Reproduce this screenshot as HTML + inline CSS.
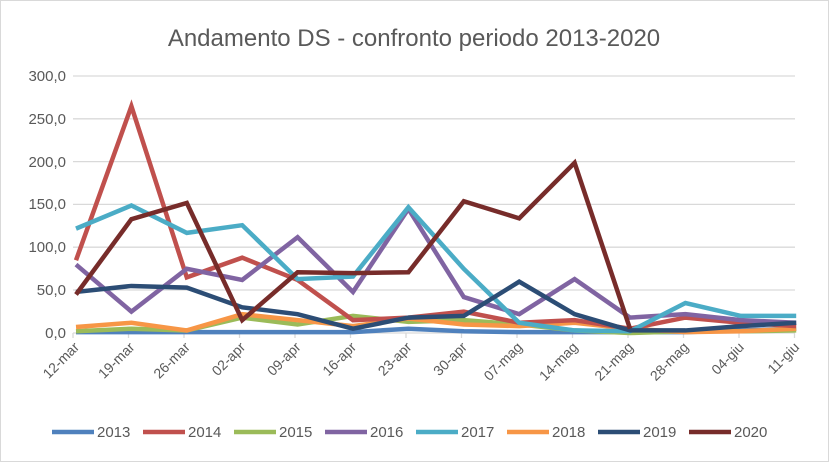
<!DOCTYPE html>
<html><head><meta charset="utf-8"><style>
body{margin:0;background:#fff}
svg{display:block;font-family:"Liberation Sans",Arial,sans-serif}
</style></head><body>
<svg width="829" height="462" viewBox="0 0 829 462" xmlns="http://www.w3.org/2000/svg">
<rect x="0.5" y="0.5" width="828" height="461" fill="#fff" stroke="#d9d9d9"/>
<text x="414" y="46" text-anchor="middle" font-size="24" fill="#595959">Andamento DS - confronto periodo 2013-2020</text>
<g stroke="#d9d9d9" stroke-width="1.3">
<line x1="73" x2="795" y1="76" y2="76"/><line x1="73" x2="795" y1="118.8" y2="118.8"/>
<line x1="73" x2="795" y1="161.6" y2="161.6"/><line x1="73" x2="795" y1="204.4" y2="204.4"/>
<line x1="73" x2="795" y1="247.2" y2="247.2"/><line x1="73" x2="795" y1="290" y2="290"/>
<line x1="73" x2="795" y1="333" y2="333"/>
</g>
<g stroke="#d9d9d9" stroke-width="1.3" id="ticks"></g>
<g font-size="15" fill="#595959" text-anchor="end">
<text x="66" y="81">300,0</text><text x="66" y="124">250,0</text><text x="66" y="167">200,0</text>
<text x="66" y="209">150,0</text><text x="66" y="252">100,0</text><text x="66" y="295">50,0</text><text x="66" y="338">0,0</text>
</g>
<g id="xl" font-size="14" fill="#595959" text-anchor="end"></g>
<g id="lines" fill="none" stroke-width="4.5" stroke-linejoin="miter"></g>
<g font-size="15" fill="#595959">
<line x1="52" x2="94" y1="432" y2="432" stroke="#4F81BD" stroke-width="4.5"/><text x="97" y="437">2013</text>
<line x1="143" x2="185" y1="432" y2="432" stroke="#C0504D" stroke-width="4.5"/><text x="188" y="437">2014</text>
<line x1="234" x2="276" y1="432" y2="432" stroke="#9BBB59" stroke-width="4.5"/><text x="279" y="437">2015</text>
<line x1="325" x2="367" y1="432" y2="432" stroke="#8064A2" stroke-width="4.5"/><text x="370" y="437">2016</text>
<line x1="416" x2="458" y1="432" y2="432" stroke="#4BACC6" stroke-width="4.5"/><text x="461" y="437">2017</text>
<line x1="507" x2="549" y1="432" y2="432" stroke="#F79646" stroke-width="4.5"/><text x="552" y="437">2018</text>
<line x1="598" x2="640" y1="432" y2="432" stroke="#2C4D75" stroke-width="4.5"/><text x="643" y="437">2019</text>
<line x1="689" x2="731" y1="432" y2="432" stroke="#772C2A" stroke-width="4.5"/><text x="734" y="437">2020</text>
</g>
<script>
var ns="http://www.w3.org/2000/svg";
var cats=["12-mar","19-mar","26-mar","02-apr","09-apr","16-apr","23-apr","30-apr","07-mag","14-mag","21-mag","28-mag","04-giu","11-giu"];
function X(i){return 76+i*55.4}
function Y(v){return 333-v*0.8556}
var t=document.getElementById("ticks"),xl=document.getElementById("xl");
for(var i=0;i<14;i++){
 var l=document.createElementNS(ns,"line");var tx=73+i*55.5;
 l.setAttribute("x1",tx);l.setAttribute("x2",tx);l.setAttribute("y1",333);l.setAttribute("y2",338);t.appendChild(l);
 var tt=document.createElementNS(ns,"text");var ax=X(i)+4,ay=348;
 tt.setAttribute("x",ax);tt.setAttribute("y",ay);tt.setAttribute("transform","rotate(-45 "+ax+" "+ay+")");tt.textContent=cats[i];xl.appendChild(tt);
}
var S=[
["#4F81BD",[1,1,1,1,1,1,5,2,1,1,1,1,3,5]],
["#9BBB59",[2,5,3,18,10,20,13,15,10,3,0,2,2,3]],
["#F79646",[7,12,3,22,15,8,17,10,8,12,5,1,2,5]],
["#C0504D",[85,265,65,88,62,15,18,25,12,15,5,18,12,8]],
["#8064A2",[80,25,75,62,112,48,145,42,22,63,18,22,15,12]],
["#4BACC6",[122,149,117,126,63,66,147,75,12,3,2,35,20,20]],
["#2C4D75",[48,55,53,30,22,5,18,20,60,22,3,3,8,12]],
["#772C2A",[45,133,152,15,71,70,71,154,134,199,5]]
];
var g=document.getElementById("lines");
S.forEach(function(s){var p=document.createElementNS(ns,"polyline");
 p.setAttribute("points",s[1].map(function(v,i){return X(i)+","+Y(v)}).join(" "));
 p.setAttribute("stroke",s[0]);g.appendChild(p);});
</script>
</svg>
</body></html>
